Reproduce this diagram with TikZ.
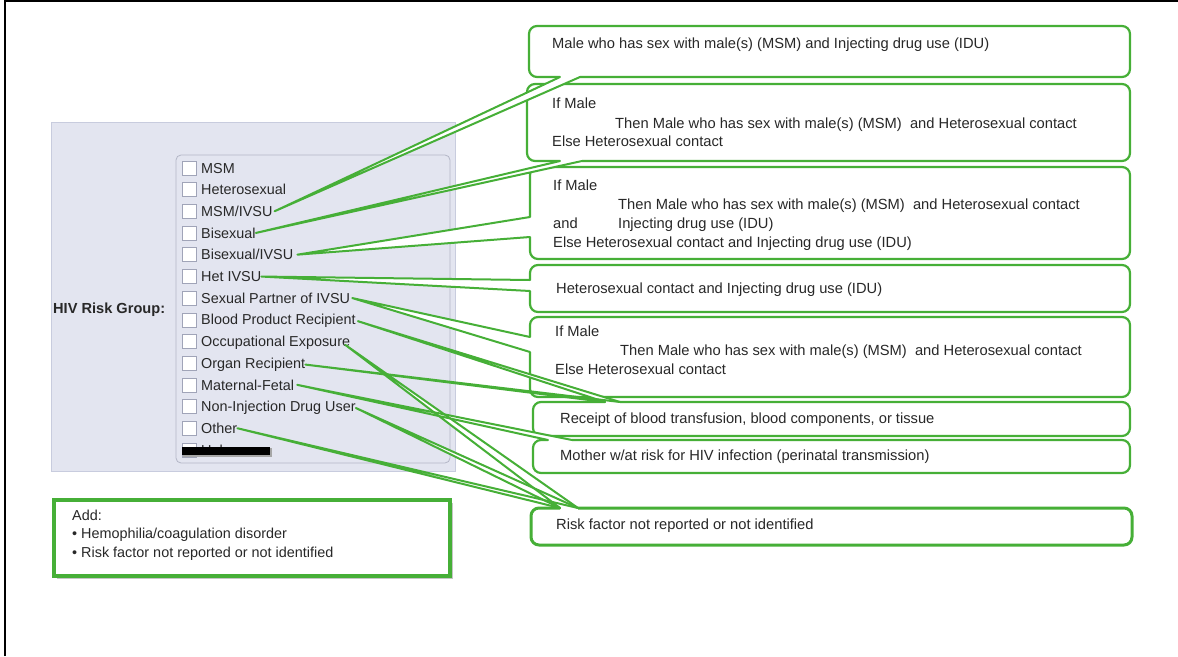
\documentclass[tikz,border=0pt]{standalone}
\usepackage{fontspec}
\setmainfont{Liberation Sans}
\usetikzlibrary{calc,shadows}
\definecolor{grn}{RGB}{70,175,55}
\definecolor{ink}{RGB}{40,40,40}
\definecolor{panelbg}{RGB}{227,229,240}
\definecolor{panelln}{RGB}{200,204,222}
\definecolor{chkline}{RGB}{160,164,184}
\begin{document}
\begin{tikzpicture}[x=1pt,y=-1pt,
  txt/.style={anchor=base west, inner sep=0pt, text=ink, font=\fontsize{14.4}{17}\selectfont},
  ctxt/.style={txt, font=\fontsize{14.7}{17}\selectfont},
  chk/.style={draw=chkline, fill=white, line width=0.8pt, minimum size=14pt, inner sep=0pt},
  bxfill/.style={fill=white, rounded corners=8pt, inner sep=0pt, outer sep=0pt},
  bxedge/.style={draw=grn, line width=2.2pt, rounded corners=8pt, line join=round},
  ptrline/.style={draw=grn, line width=2pt, line join=round, line cap=round},
]
\useasboundingbox (0,0) rectangle (1178,656);

% outer frame
\draw[black, line width=2pt] (5,656) -- (5,1) -- (1178,1);

% form panel
\fill[panelbg] (51,122) rectangle (455,471);
\draw[panelln, line width=0.8pt] (51,122) rectangle (455,471);
\draw[chkline!80, line width=0.8pt, rounded corners=5pt] (176,155) rectangle (450,463);
\node[anchor=west, inner sep=0pt, text=ink, font=\bfseries\fontsize{14.6}{17}\selectfont] (hiv) at (53,310) {HIV Risk Group:};

% check boxes and their labels
\foreach \i/\t in {1/MSM, 2/Heterosexual, 3/{MSM/IVSU}, 4/Bisexual, 5/{Bisexual/IVSU}, 6/Het IVSU,
  7/Sexual Partner of IVSU, 8/Blood Product Recipient, 9/Occupational Exposure, 10/Organ Recipient,
  11/Maternal-Fetal, 12/Non-Injection Drug User, 13/Other, 14/Unknown}{
  \pgfmathsetmacro{\ry}{168+21.7*(\i-1)}
  \node[chk] (c\i) at (189,\ry) {};
  \node[txt] (l\i) at (201,\ry+5) {\t};
}
% blacked-out last entry
\fill[black!35] (183,448) rectangle (272,457);
\fill[black] (182,447) rectangle (270,455);

% note box
\node[draw=grn, line width=3.5pt, fill=white, minimum width=396pt, minimum height=76pt,
  anchor=north west, drop shadow={shadow xshift=3pt, shadow yshift=-3pt, fill=black!45, opacity=0.5}] (add) at (52,498) {};
\node[txt] (add1) at (72,520) {Add:};
\node[txt] (add2) at (72,538) {• Hemophilia/coagulation disorder};
\node[txt] (add3) at (72,557) {• Risk factor not reported or not identified};

% callout bodies
\node[bxfill, minimum width=601pt, minimum height=51pt] (A) at (829.5,51.5) {};
\node[bxfill, minimum width=603pt, minimum height=77pt] (B) at (828.5,122.5) {};
\node[bxfill, minimum width=600pt, minimum height=92pt] (C) at (830,213) {};
\node[bxfill, minimum width=600pt, minimum height=47pt] (D) at (830,288.5) {};
\node[bxfill, minimum width=600pt, minimum height=80pt] (E) at (830,357) {};
\node[bxfill, minimum width=597pt, minimum height=34pt] (F) at (831.5,419) {};
\node[bxfill, minimum width=597pt, minimum height=33pt] (G) at (831.5,456.5) {};
\node[bxfill, minimum width=601pt, minimum height=37pt] (H) at (831.5,526.5) {};

% pointer bases on the callout borders
\coordinate (pA1) at ($(A.south west)+(31,0)$);
\coordinate (pA2) at ($(A.south west)+(51,0)$);
\coordinate (pB1) at ($(B.south west)+(33,0)$);
\coordinate (pB2) at ($(B.south west)+(55,0)$);
\coordinate (pC1) at ($(C.north west)+(0,50)$);
\coordinate (pC2) at ($(C.north west)+(0,70)$);
\coordinate (pD1) at ($(D.north west)+(0,15)$);
\coordinate (pD2) at ($(D.north west)+(0,26)$);
\coordinate (pE1) at ($(E.north west)+(0,20)$);
\coordinate (pE2) at ($(E.north west)+(0,35)$);
\coordinate (pF1) at ($(F.north west)+(72,0)$);
\coordinate (pF2) at ($(F.north west)+(87,0)$);
\coordinate (pG1) at ($(G.north west)+(15,0)$);
\coordinate (pG2) at ($(G.north west)+(39,0)$);
\coordinate (pH1) at ($(H.north west)+(29,0)$);
\coordinate (pH2) at ($(H.north west)+(47,0)$);

% pointer tips at the list entries
\coordinate (q3) at ([xshift=2pt]l3.east);
\coordinate (q4) at (l4.east);
\coordinate (q5) at ([xshift=4pt]l5.east);
\coordinate (q6) at (l6.east);
\coordinate (q7) at ([xshift=2pt]l7.east);
\coordinate (q8) at ([xshift=2pt]l8.east);
\coordinate (q9) at ([xshift=-5pt,yshift=-2pt]l9.east);
\coordinate (q10) at (l10.east);
\coordinate (q11) at ([xshift=3pt]l11.east);
\coordinate (q12) at (l12.east);
\coordinate (q13) at (l13.east);

% callout borders, left open where the pointer joins
\draw[bxedge] (pA2) -- (A.south east) -- (A.north east) -- (A.north west) -- (A.south west) -- (pA1);
\draw[bxedge] (pB2) -- (B.south east) -- (B.north east) -- (B.north west) -- (B.south west) -- (pB1);
\draw[bxedge] (pC2) -- (C.south west) -- (C.south east) -- (C.north east) -- (C.north west) -- (pC1);
\draw[bxedge] (pD2) -- (D.south west) -- (D.south east) -- (D.north east) -- (D.north west) -- (pD1);
\draw[bxedge] (pE2) -- (E.south west) -- (E.south east) -- (E.north east) -- (E.north west) -- (pE1);
\draw[bxedge] (pF2) -- (F.north east) -- (F.south east) -- (F.south west) -- (F.north west) -- (pF1);
\draw[bxedge] (pG2) -- (G.north east) -- (G.south east) -- (G.south west) -- (G.north west) -- (pG1);
\draw[bxedge, line width=3pt] (pH2) -- (H.north east) -- (H.south east) -- (H.south west) -- (H.north west) -- (pH1);

% pointer interiors
\foreach \a/\t/\b in {pA1/q3/pA2, pB1/q4/pB2, pC1/q5/pC2, pD1/q6/pD2, pE1/q7/pE2,
  pF1/q8/pF2, pF1/q10/pF2, pG1/q11/pG2, pH1/q9/pH2, pH1/q12/pH2, pH1/q13/pH2}{
  \fill[white] (\a) -- (\t) -- (\b) -- cycle;
}
% pointer outlines
\foreach \a/\t/\b in {pA1/q3/pA2, pB1/q4/pB2, pC1/q5/pC2, pD1/q6/pD2, pE1/q7/pE2,
  pF1/q8/pF2, pF1/q10/pF2, pG1/q11/pG2, pH1/q9/pH2, pH1/q12/pH2, pH1/q13/pH2}{
  \draw[ptrline] (\a) -- (\t) -- (\b);
}

% callout texts
\node[ctxt] (tA) at (552,48) {Male who has sex with male(s) (MSM) and Injecting drug use (IDU)};

\node[ctxt] (tB1) at (552,108) {If Male};
\node[ctxt] (tB2) at (615,128) {Then Male who has sex with male(s) (MSM)\ \ and Heterosexual contact};
\node[ctxt] (tB3) at (552,146) {Else Heterosexual contact};

\node[ctxt] (tC1) at (553,190) {If Male};
\node[ctxt] (tC2) at (618,209) {Then Male who has sex with male(s) (MSM)\ \ and Heterosexual contact};
\node[ctxt] (tC3) at (553,228) {and};
\node[ctxt] (tC4) at (618,228) {Injecting drug use (IDU)};
\node[ctxt] (tC5) at (553,247) {Else Heterosexual contact and Injecting drug use (IDU)};

\node[ctxt] (tD) at (556,293) {Heterosexual contact and Injecting drug use (IDU)};

\node[ctxt] (tE1) at (555,336) {If Male};
\node[ctxt] (tE2) at (620,355) {Then Male who has sex with male(s) (MSM)\ \ and Heterosexual contact};
\node[ctxt] (tE3) at (555,374) {Else Heterosexual contact};

\node[ctxt] (tF) at (560,423) {Receipt of blood transfusion, blood components, or tissue};
\node[ctxt] (tG) at (560,460) {Mother w/at risk for HIV infection (perinatal transmission)};
\node[ctxt] (tH) at (556,529) {Risk factor not reported or not identified};
\end{tikzpicture}
\end{document}
